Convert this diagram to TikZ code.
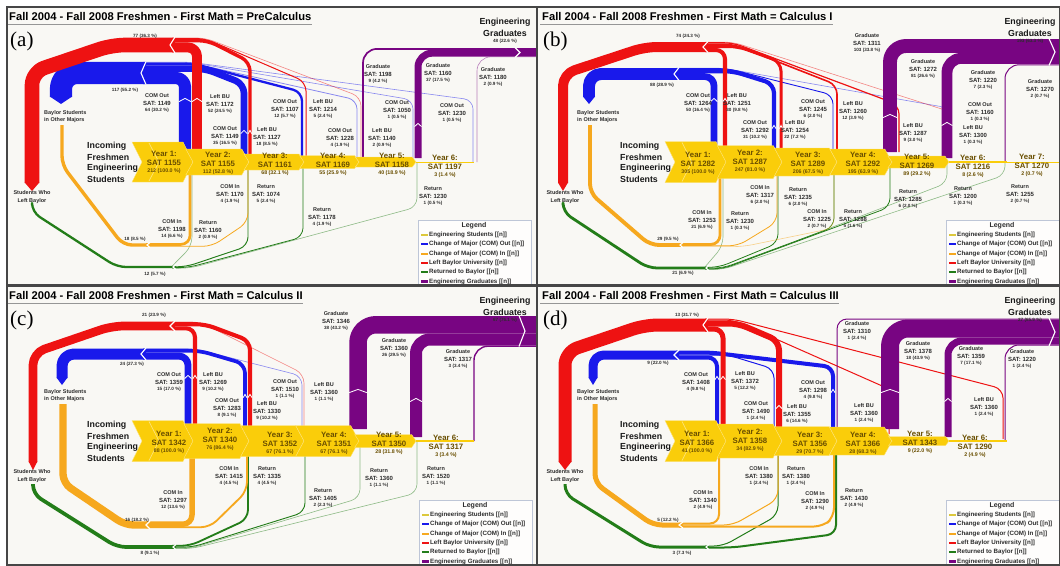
\documentclass[tikz,border=0pt]{standalone}
\usepackage{fontspec}
\setmainfont{Liberation Sans}
\newfontfamily\serifTimes{Liberation Serif}
\definecolor{cRed}{RGB}{238,18,18}
\definecolor{cBlue}{RGB}{25,25,235}
\definecolor{cOrange}{RGB}{246,168,30}
\definecolor{cGreen}{RGB}{35,125,25}
\definecolor{cPurple}{RGB}{120,5,130}
\definecolor{cYellow}{RGB}{250,205,10}
\definecolor{cYellowL}{RGB}{253,228,120}
\definecolor{cLegY}{RGB}{220,200,60}
\definecolor{cBg}{RGB}{249,248,244}
\definecolor{cFrame}{RGB}{70,70,70}
\definecolor{cRule}{RGB}{150,150,150}
\definecolor{cTxt}{RGB}{45,45,45}
\definecolor{cInc}{RGB}{25,25,25}
\definecolor{cYear}{RGB}{105,78,0}
\definecolor{cLegB}{RGB}{190,198,215}
\tikzset{
 flow/.style={line cap=butt, line join=round, rounded corners=9},
 fr/.style={flow, draw=cRed},
 fb/.style={flow, draw=cBlue},
 fo/.style={flow, draw=cOrange},
 fg/.style={flow, draw=cGreen},
 fp/.style={flow, draw=cPurple, rounded corners=14},
 pale/.style={opacity=0.5},
 notch/.style={draw=white, line width=1.1, line join=miter},
 wmk/.style={draw=white, line width=0.8},
 chevS/.style={fill=cYellow, draw=cYellowL, line width=0.4},
 la/.style={inner sep=0, text=cTxt, font=\fontsize{5.5}{6}\selectfont\bfseries},
 lb/.style={inner sep=0, text=cTxt, font=\fontsize{6}{7}\selectfont\bfseries},
 lc/.style={inner sep=0, text=cTxt, font=\fontsize{4.6}{5}\selectfont\bfseries},
 ya/.style={inner sep=0, text=cYear, font=\fontsize{7.8}{9}\selectfont\bfseries},
 yc/.style={inner sep=0, text=cYear, font=\fontsize{5.3}{6}\selectfont\bfseries},
 inc/.style={inner sep=0, anchor=west, text=cInc, font=\fontsize{8.8}{10}\selectfont\bfseries},
 eg/.style={inner sep=0, text=cInc, font=\fontsize{8.8}{10}\selectfont\bfseries},
 ttl/.style={inner sep=0, anchor=west, text=black, font=\fontsize{11.2}{12}\selectfont\bfseries},
 plab/.style={inner sep=0, anchor=west, font=\serifTimes\fontsize{21}{22}\selectfont},
 lgT/.style={inner sep=0, text=cTxt, font=\fontsize{7}{8}\selectfont\bfseries},
 lgI/.style={inner sep=0, anchor=west, text=cTxt, font=\fontsize{6.2}{7}\selectfont\bfseries},
}
\newcommand\lab[5]{%
 \node[la] at (#1,#2) {#3};
 \node[lb] at (#1,#2+7) {#4};
 \node[lc] at (#1,#2+14) {#5};}
\newcommand\ylab[5]{%
 \node[ya] at (#1,#2) {#3};
 \node[ya] at (#1,#2+9) {#4};
 \node[yc] at (#1,#2+17) {#5};}
\newcommand\chevA[3]{%
 \pgfmathsetmacro\chd{min(10,0.22*#3+1.5)}%
 \filldraw[chevS] (#1,162-#3/2) -- (#2-\chd,162-#3/2) -- (#2,162) -- (#2-\chd,162+#3/2) -- (#1,162+#3/2) -- (#1+\chd,162) -- cycle;
 \draw[cYellowL, line width=0.7] (149,162-#3/2+1) -- (159,162) -- (149,162+#3/2-1);}
\newcommand\chevB[3]{%
 \pgfmathsetmacro\chd{min(10,0.22*#3+1.5)}%
 \filldraw[chevS] (#1-\chd,162-#3/2) -- (#2-\chd,162-#3/2) -- (#2,162) -- (#2-\chd,162+#3/2) -- (#1-\chd,162+#3/2) -- (#1,162) -- cycle;}
\newcommand\ythin[3]{\draw[cYellow, line width=#3] (#1,162) -- (#2,162);}
\newcommand\wmark[3]{\draw[wmk] (#1-#3/2,#2+1.6) -- (#1,#2-1.6) -- (#1+#3/2,#2+1.6);}
\newcommand\common[3]{%
 \node[ttl] (t#2) at (9,16) {Fall 2004 - Fall 2008 Freshmen - First Math = #1};
 \coordinate (u#2) at (7,24.5);
 \draw[cRule, line width=0.8] (u#2) -- (t#2.east |- u#2);
 \node[plab] (p#2) at (10,41) {(#2)};
 \node[inc] (ia#2) at (87,146) {Incoming};
 \node[inc] (ib#2) at (87,157) {Freshmen};
 \node[inc] (ic#2) at (87,168) {Engineering};
 \node[inc] (id#2) at (87,179) {Students};
 \node[la] (sa#2) at (32,193) {Students Who};
 \node[la] (sb#2) at (32,201) {Left Baylor};
 \node[la, anchor=west] (ba#2) at (44,113) {Baylor Students};
 \node[la, anchor=west] (bb#2) at (44,120) {in Other Majors};
 \node[eg] (ea#2) at (#3,22) {Engineering};
 \node[eg] (eb#2) at (#3,33) {Graduates};}
\newcommand\legendbox[2]{%
 \filldraw[fill=white!75!cBg, draw=cLegB, line width=0.8] (#1,#2) rectangle (#1+113,#2+72);
 \node[lgT] at (#1+56,#2+6) {Legend};
 \draw[cLegY, line width=2.2] (#1+3,#2+15) -- (#1+10,#2+15);
 \node[lgI] at (#1+11,#2+15) {Engineering Students [[n]]};
 \draw[cBlue, line width=2.2] (#1+3,#2+24.3) -- (#1+10,#2+24.3);
 \node[lgI] at (#1+11,#2+24.3) {Change of Major (COM) Out [[n]]};
 \draw[cOrange, line width=2.2] (#1+3,#2+33.6) -- (#1+10,#2+33.6);
 \node[lgI] at (#1+11,#2+33.6) {Change of Major (COM) In [[n]]};
 \draw[cRed, line width=2.2] (#1+3,#2+42.9) -- (#1+10,#2+42.9);
 \node[lgI] at (#1+11,#2+42.9) {Left Baylor University [[n]]};
 \draw[cGreen, line width=2.2] (#1+3,#2+52.2) -- (#1+10,#2+52.2);
 \node[lgI] at (#1+11,#2+52.2) {Returned to Baylor [[n]]};
 \draw[cPurple, line width=2.2] (#1+3,#2+61.5) -- (#1+10,#2+61.5);
 \node[lgI] at (#1+11,#2+61.5) {Engineering Graduates [[n]]};}
\begin{document}
\begin{tikzpicture}[x=1pt,y=-1pt]
\useasboundingbox (0,0) rectangle (1060,565);
\fill[white] (0,0) rectangle (1060,565);
%%%%%%%%%%%%%%%%%%%% PANEL A
\begin{scope}
\fill[cBg] (7,7) rectangle (537,285);
\begin{scope}
\clip (7,7) rectangle (537,285);
% green
\draw[fg, line width=2.3] (32,205) -- (32,212) -- (117,267) -- (176,267);
\draw[fg, pale, line width=0.6] (172,266.2) -- (192,246) -- (192,168);
\draw[fg, line width=0.95] (172,266.8) -- (186,266.8) -- (248,246) -- (248,168);
\draw[fg, line width=0.8] (172,267.6) -- (188,267.6) -- (303,237) -- (303,166);
\draw[fg, pale, line width=0.6] (172,268.2) -- (190,268.2) -- (417,207) -- (417,162);
\draw[notch] (176,264.5) -- (173,267) -- (176,269.5);
% orange
\draw[fo, line width=3.4] (62,125) -- (62,165) -- (123,245) -- (150,245);
\draw[fo, line width=2.7] (146,244.4) -- (190,244.4) -- (190,168);
\draw[fo, line width=0.8] (146,246.3) -- (212,246.3) -- (248,222) -- (248,168);
\draw[notch] (150,242.5) -- (147,245) -- (150,247.5);
% blue
\draw[fb, line width=22.2, rounded corners=16] (61,97) -- (61,73) -- (146,73);
\fill[cBlue] (49.9,96.5) -- (72.1,96.5) -- (61,104) -- cycle;
\draw[fb, line width=12.2] (143,78) -- (185,78) -- (185,152);
\draw[fb, line width=6.65] (143,68.6) -- (205,68.6) -- (244,84) -- (244,158);
\draw[fb, line width=2.3] (143,64.1) -- (195,64.1) -- (302,92) -- (302,160);
\draw[fb, pale, line width=0.8] (143,62.7) -- (190,62.7) -- (357,100) -- (357,160);
\draw[fb, pale, line width=0.6] (143,62.3) -- (190,62.3) -- (413,100) -- (413,162);
\draw[fb, pale, line width=0.6] (143,62.1) -- (190,62.1) -- (473,100) -- (473,162);
\draw[notch] (146,61.5) -- (141,73) -- (146,84.5);
% red
\draw[fr, line width=14.6, rounded corners=13] (32,183) -- (32,72) -- (112,45) -- (175,45);
\fill[cRed] (24.7,182.5) -- (39.3,182.5) -- (32,191) -- cycle;
\draw[fr, line width=9.9] (172,47.4) -- (197,47.4) -- (197,152);
\draw[fr, line width=3.4] (172,40.7) -- (208,40.7) -- (250,62) -- (250,158);
\draw[fr, line width=1] (172,38.5) -- (205,38.5) -- (306,82) -- (306,160);
\draw[fr, pale, line width=0.6] (172,37.9) -- (205,37.9) -- (361,97) -- (361,160);
\draw[notch] (175,37) -- (170,45) -- (175,53);
% purple
\draw[fp, line width=1.7] (363,158) -- (363,48.9) -- (540,48.9);
\draw[fp, line width=7] (418,158) -- (418,53.2) -- (540,53.2);
\draw[fp, pale, line width=0.6] (477,162) -- (477,56.8) -- (540,56.8);
\draw[notch] (515,47.5) -- (520,52.5) -- (515,57.5);
% chevrons
\chevA{132}{193}{40}
\chevB{193}{249}{26}
\chevB{249}{304}{16}
\chevB{304}{359}{13}
\chevB{359}{416}{10}
\ythin{416}{474}{1}
\wmark{185}{100}{12}\wmark{197}{100}{10}\wmark{244}{132}{6.6}\wmark{250}{132}{3.4}\wmark{418}{125}{7}
% labels
\node[lc] at (145,36) {77 (36.3 \%)};
\node[lc] at (125,90) {117 (55.2 \%)};
\lab{157}{96}{COM Out}{SAT: 1149}{64 (30.2 \%)}
\lab{220}{97}{Left BU}{SAT: 1172}{52 (24.5 \%)}
\lab{225}{129}{COM Out}{SAT: 1149}{35 (16.5 \%)}
\lab{267}{130}{Left BU}{SAT: 1127}{18 (8.5 \%)}
\lab{285}{102}{COM Out}{SAT: 1107}{12 (5.7 \%)}
\lab{323}{102}{Left BU}{SAT: 1214}{5 (2.4 \%)}
\lab{340}{131}{COM Out}{SAT: 1228}{4 (1.9 \%)}
\lab{382}{131}{Left BU}{SAT: 1140}{2 (0.9 \%)}
\lab{397}{103}{COM Out}{SAT: 1050}{1 (0.5 \%)}
\lab{452}{106}{COM Out}{SAT: 1230}{1 (0.5 \%)}
\lab{378}{67}{Graduate}{SAT: 1198}{9 (4.2 \%)}
\lab{438}{66}{Graduate}{SAT: 1160}{37 (17.5 \%)}
\lab{493}{70}{Graduate}{SAT: 1180}{2 (0.9 \%)}
\lab{172}{222}{COM In}{SAT: 1198}{14 (6.6 \%)}
\lab{208}{223}{Return}{SAT: 1160}{2 (0.9 \%)}
\lab{230}{187}{COM In}{SAT: 1170}{4 (1.9 \%)}
\lab{266}{187}{Return}{SAT: 1074}{5 (2.4 \%)}
\lab{322}{210}{Return}{SAT: 1178}{4 (1.9 \%)}
\lab{433}{189}{Return}{SAT: 1230}{1 (0.5 \%)}
\node[lc] at (135,239) {18 (8.5 \%)};
\node[lc] at (155,274) {12 (5.7 \%)};
\ylab{164}{154}{Year 1:}{SAT 1155}{212 (100.0 \%)}
\ylab{218}{155}{Year 2:}{SAT 1155}{112 (52.8 \%)}
\ylab{275}{156}{Year 3:}{SAT 1161}{68 (32.1 \%)}
\ylab{333}{156}{Year 4:}{SAT 1169}{55 (25.9 \%)}
\ylab{392}{156}{Year 5:}{SAT 1158}{40 (18.9 \%)}
\ylab{445}{158}{Year 6:}{SAT 1197}{3 (1.4 \%)}
\node[lc] at (505,41) {48 (22.6 \%)};
\common{PreCalculus}{a}{505}
\legendbox{418}{220}
\end{scope}
\draw[cFrame, line width=1.2] (7,7) rectangle (537,285);
\end{scope}
%%%%%%%%%%%%%%%%%%%% PANEL B
\begin{scope}[shift={(533,0)}]
\fill[cBg] (4,7) rectangle (527,285);
\begin{scope}
\clip (4,7) rectangle (527,285);
% green
\draw[fg, line width=2.8] (30,205) -- (30,212) -- (115,268) -- (176,268);
\draw[fg, pale, line width=0.6] (172,266.9) -- (190,246) -- (190,168);
\draw[fg, line width=0.8] (172,267.3) -- (186,267.3) -- (245,243) -- (245,168);
\draw[fg, line width=0.7] (172,268) -- (190,268) -- (301,227) -- (301,168);
\draw[fg, line width=0.8] (172,268.7) -- (190,268.7) -- (357,207) -- (357,166);
\draw[fg, pale, line width=0.6] (172,269.2) -- (190,269.2) -- (414,183) -- (414,162);
\draw[fg, pale, line width=0.6] (172,269.4) -- (190,269.4) -- (472,175) -- (472,162);
\draw[notch] (176,265.5) -- (173,268) -- (176,270.5);
% orange
\draw[fo, line width=3.9] (57,125) -- (57,193) -- (117,245) -- (150,245);
\draw[fo, line width=2.8] (146,244.4) -- (187,244.4) -- (187,168);
\draw[fo, line width=0.8] (146,245.8) -- (205,245.8) -- (244,222) -- (244,168);
\draw[fo, pale, line width=0.6] (146,246.6) -- (210,246.6) -- (301,228) -- (301,168);
\draw[notch] (150,242.5) -- (147,245) -- (150,247.5);
% blue
\draw[fb, line width=11.9, rounded corners=12] (56,97) -- (56,74) -- (146,74);
\fill[cBlue] (50,96.5) -- (62,96.5) -- (56,104) -- cycle;
\draw[fb, line width=6.75] (143,76.6) -- (181,76.6) -- (181,150);
\draw[fb, line width=4.2] (143,71.2) -- (200,71.2) -- (241,84) -- (241,150);
\draw[fb, line width=0.9] (143,68.6) -- (195,68.6) -- (300,95) -- (300,152);
\draw[fb, pale, line width=0.6] (143,68.1) -- (190,68.1) -- (416,108) -- (416,158);
\draw[notch] (146,67.5) -- (141,74) -- (146,80.5);
% red
\draw[fr, line width=10, rounded corners=12] (30,183) -- (30,74) -- (112,47) -- (175,47);
\fill[cRed] (25,182.5) -- (35,182.5) -- (30,191) -- cycle;
\draw[fr, line width=4.05] (172,50) -- (192,50) -- (192,146);
\draw[fr, line width=3] (172,46.5) -- (205,46.5) -- (248,62) -- (248,150);
\draw[fr, line width=1.6] (172,44.2) -- (200,44.2) -- (304,85) -- (304,152);
\draw[fr, line width=1.2] (172,42.8) -- (200,42.8) -- (366,105) -- (366,152);
\draw[fr, pale, line width=0.6] (172,42.1) -- (200,42.1) -- (418,112) -- (418,158);
\draw[notch] (175,41.5) -- (170,47) -- (175,52.5);
% purple
\draw[fp, line width=13.9, rounded corners=16] (357,152) -- (357,46) -- (540,46);
\draw[fp, line width=10.9] (414,158) -- (414,58.4) -- (540,58.4);
\draw[fp, line width=1] (472,162) -- (472,64.8) -- (540,64.8);
\draw[notch] (516,38.5) -- (522,52) -- (516,65.5);
% chevrons
\chevA{132}{193}{41}
\chevB{193}{249}{33}
\chevB{249}{304}{28}
\chevB{304}{359}{26}
\chevB{359}{416}{12}
\ythin{416}{474}{1.1}
\ythin{474}{531}{0.7}
\wmark{181}{100}{6.8}\wmark{192}{100}{4}\wmark{241}{127}{4.2}\wmark{248}{127}{3}\wmark{357}{116}{14}\wmark{414}{124}{11}
% labels
\node[lc] at (155,36) {74 (24.3 \%)};
\node[lc] at (129,85) {88 (28.9 \%)};
\lab{165}{96}{COM Out}{SAT: 1264}{50 (16.4 \%)}
\lab{204}{96}{Left BU}{SAT: 1251}{30 (9.8 \%)}
\lab{222}{123}{COM Out}{SAT: 1292}{31 (10.2 \%)}
\lab{262}{123}{Left BU}{SAT: 1254}{22 (7.2 \%)}
\lab{280}{102}{COM Out}{SAT: 1245}{6 (2.0 \%)}
\lab{320}{104}{Left BU}{SAT: 1260}{12 (3.9 \%)}
\lab{380}{126}{Left BU}{SAT: 1287}{9 (3.0 \%)}
\lab{447}{105}{COM Out}{SAT: 1160}{1 (0.3 \%)}
\lab{440}{128}{Left BU}{SAT: 1300}{1 (0.3 \%)}
\lab{334}{36}{Graduate}{SAT: 1311}{103 (33.8 \%)}
\lab{390}{62}{Graduate}{SAT: 1272}{81 (26.6 \%)}
\lab{450}{73}{Graduate}{SAT: 1220}{7 (2.3 \%)}
\lab{507}{82}{Graduate}{SAT: 1270}{2 (0.7 \%)}
\ylab{165}{155}{Year 1:}{SAT 1282}{305 (100.0 \%)}
\ylab{217}{153}{Year 2:}{SAT 1287}{247 (81.0 \%)}
\ylab{275}{155}{Year 3:}{SAT 1289}{206 (67.5 \%)}
\ylab{330}{155}{Year 4:}{SAT 1292}{195 (63.9 \%)}
\ylab{384}{157}{Year 5:}{SAT 1269}{89 (29.2 \%)}
\ylab{440}{158}{Year 6:}{SAT 1216}{8 (2.6 \%)}
\ylab{499}{157}{Year 7:}{SAT 1270}{2 (0.7 \%)}
\lab{169}{213}{COM In}{SAT: 1253}{21 (6.9 \%)}
\lab{207}{214}{Return}{SAT: 1230}{1 (0.3 \%)}
\lab{227}{188}{COM In}{SAT: 1317}{6 (2.0 \%)}
\lab{265}{190}{Return}{SAT: 1235}{6 (2.0 \%)}
\lab{284}{212}{COM In}{SAT: 1225}{2 (0.7 \%)}
\lab{320}{212}{Return}{SAT: 1288}{5 (1.6 \%)}
\lab{375}{192}{Return}{SAT: 1285}{6 (2.0 \%)}
\lab{430}{189}{Return}{SAT: 1200}{1 (0.3 \%)}
\lab{487}{187}{Return}{SAT: 1255}{2 (0.7 \%)}
\node[lc] at (135,239) {29 (9.5 \%)};
\node[lc] at (150,273) {21 (6.9 \%)};
\node[lc] at (497,41) {193 (63.3 \%)};
\common{Calculus I}{b}{497}
\legendbox{413}{220}
\end{scope}
\draw[cFrame, line width=1.2] (4,7) rectangle (527,285);
\end{scope}
%%%%%%%%%%%%%%%%%%%% PANEL C
\begin{scope}[shift={(0,279)}]
\fill[cBg] (7,7) rectangle (537,286);
\begin{scope}
\clip (7,7) rectangle (537,286);
% green
\draw[fg, line width=3.7] (33,205) -- (33,215) -- (117,268) -- (176,268);
\draw[fg, line width=1.84] (172,266.8) -- (190,266.8) -- (248,240) -- (248,170);
\draw[fg, line width=0.92] (172,268.2) -- (192,268.2) -- (305,233) -- (305,170);
\draw[fg, pale, line width=0.6] (172,269) -- (192,269) -- (360,219) -- (360,168);
\draw[fg, pale, line width=0.6] (172,269.6) -- (192,269.6) -- (417,214) -- (417,162);
\draw[notch] (176,265.5) -- (173,268) -- (176,270.5);
% orange
\draw[fo, line width=7.4] (63,125) -- (63,204) -- (125,246) -- (150,246);
\draw[fo, line width=5.5] (146,245.2) -- (192,245.2) -- (192,170);
\draw[fo, line width=1.84] (146,248.2) -- (210,248.2) -- (247,212) -- (247,170);
\draw[notch] (150,242) -- (146,246) -- (150,250);
% blue
\draw[fb, line width=11, rounded corners=12] (62,99) -- (62,75) -- (146,75);
\fill[cBlue] (56.5,98.5) -- (67.5,98.5) -- (62,106) -- cycle;
\draw[fb, line width=6.9] (143,77.1) -- (188,77.1) -- (188,148);
\draw[fb, line width=3.7] (143,71.8) -- (200,71.8) -- (245,85) -- (245,150);
\draw[fb, pale, line width=0.6] (143,69.7) -- (195,69.7) -- (302,97) -- (302,155);
\draw[notch] (146,69) -- (141,75) -- (146,81);
% red
\draw[fr, line width=8.7, rounded corners=12] (33,183) -- (33,74) -- (112,47) -- (175,47);
\fill[cRed] (28.6,182.5) -- (37.4,182.5) -- (33,191) -- cycle;
\draw[fr, line width=4.1] (172,49.3) -- (195,49.3) -- (195,148);
\draw[fr, line width=4.1] (172,45.2) -- (205,45.2) -- (250,62) -- (250,150);
\draw[fr, pale, line width=0.6] (172,42.9) -- (200,42.9) -- (304,95) -- (304,155);
\draw[notch] (175,42) -- (170,47) -- (175,52);
% purple
\draw[fp, line width=17.5, rounded corners=18] (358,150) -- (358,45.75) -- (540,45.75);
\draw[fp, line width=12] (416,158) -- (416,60.5) -- (540,60.5);
\draw[fp, line width=1.4] (474,162) -- (474,67.2) -- (540,67.2);
\draw[notch] (519,36.5) -- (525,52) -- (519,67.5);
% chevrons
\chevA{132}{193}{41}
\chevB{193}{249}{35}
\chevB{249}{304}{31}
\chevB{304}{359}{31}
\chevB{359}{416}{13}
\ythin{416}{474}{1.4}
\wmark{188}{98}{6.9}\wmark{195}{98}{4.1}\wmark{245}{117}{3.7}\wmark{250}{117}{4.1}\wmark{358}{112}{17.5}\wmark{416}{121}{12}
% labels
\node[lc] at (154,36) {21 (23.9 \%)};
\node[lc] at (132,85) {24 (27.3 \%)};
\lab{169}{96}{COM Out}{SAT: 1359}{15 (17.0 \%)}
\lab{213}{96}{Left BU}{SAT: 1269}{9 (10.2 \%)}
\lab{227}{122}{COM Out}{SAT: 1283}{8 (9.1 \%)}
\lab{267}{125}{Left BU}{SAT: 1330}{9 (10.2 \%)}
\lab{285}{103}{COM Out}{SAT: 1510}{1 (1.1 \%)}
\lab{324}{106}{Left BU}{SAT: 1360}{1 (1.1 \%)}
\lab{336}{35}{Graduate}{SAT: 1346}{38 (43.2 \%)}
\lab{394}{62}{Graduate}{SAT: 1360}{26 (29.5 \%)}
\lab{458}{73}{Graduate}{SAT: 1317}{3 (3.4 \%)}
\ylab{169}{155}{Year 1:}{SAT 1342}{88 (100.0 \%)}
\ylab{220}{152}{Year 2:}{SAT 1340}{76 (86.4 \%)}
\ylab{280}{156}{Year 3:}{SAT 1352}{67 (76.1 \%)}
\ylab{334}{156}{Year 4:}{SAT 1351}{67 (76.1 \%)}
\ylab{389}{156}{Year 5:}{SAT 1350}{28 (31.8 \%)}
\ylab{446}{159}{Year 6:}{SAT 1317}{3 (3.4 \%)}
\lab{229}{190}{COM In}{SAT: 1415}{4 (4.5 \%)}
\lab{267}{190}{Return}{SAT: 1335}{4 (4.5 \%)}
\lab{173}{214}{COM In}{SAT: 1297}{12 (13.6 \%)}
\lab{323}{212}{Return}{SAT: 1405}{2 (2.3 \%)}
\lab{379}{192}{Return}{SAT: 1360}{1 (1.1 \%)}
\lab{436}{190}{Return}{SAT: 1520}{1 (1.1 \%)}
\node[lc] at (137,241) {16 (18.2 \%)};
\node[lc] at (150,274) {8 (9.1 \%)};
\node[lc] at (505,41) {67 (76.1 \%)};
\common{Calculus II}{c}{505}
\legendbox{419}{221}
\end{scope}
\draw[cFrame, line width=1.2] (7,7) rectangle (537,286);
\end{scope}
%%%%%%%%%%%%%%%%%%%% PANEL D
\begin{scope}[shift={(533,279)}]
\fill[cBg] (4,7) rectangle (527,286);
\begin{scope}
\clip (4,7) rectangle (527,286);
% green
\draw[fg, line width=3] (32,205) -- (32,215) -- (117,268) -- (176,268);
\draw[fg, line width=1] (172,267) -- (190,267) -- (245,236) -- (245,170);
\draw[fg, line width=2] (172,268.5) -- (200,268.5) -- (303,255) -- (303,170);
\draw[notch] (176,265.5) -- (173,268) -- (176,270.5);
% orange
\draw[fo, line width=5] (62,125) -- (62,204) -- (120,246) -- (150,246);
\draw[fo, line width=2] (146,244.5) -- (186,244.5) -- (186,172);
\draw[fo, line width=1] (146,246) -- (200,246) -- (245,220) -- (245,172);
\draw[fo, line width=2] (146,247.5) -- (290,247.5) -- (301,238) -- (301,172);
\draw[notch] (150,243) -- (146,246) -- (150,249);
% blue
\draw[fb, line width=9, rounded corners=11] (60,99) -- (60,76) -- (146,76);
\fill[cBlue] (55.5,98.5) -- (64.5,98.5) -- (60,106) -- cycle;
\draw[fb, line width=4] (143,78.5) -- (184,78.5) -- (184,150);
\draw[fb, line width=1] (143,76) -- (195,76) -- (241,90) -- (241,150);
\draw[fb, line width=4] (143,73.5) -- (178,73.5) -- (300,88) -- (300,150);
\draw[notch] (146,71) -- (141,76) -- (146,81);
% red
\draw[fr, line width=13, rounded corners=13] (32,183) -- (32,73) -- (112,46) -- (175,46);
\fill[cRed] (25.5,182.5) -- (38.5,182.5) -- (32,191) -- cycle;
\draw[fr, line width=5] (172,50) -- (190,50) -- (190,148);
\draw[fr, line width=6] (172,44.5) -- (205,44.5) -- (246,62) -- (246,150);
\draw[fr, line width=1] (172,41) -- (200,41) -- (356,110) -- (356,155);
\draw[fr, line width=1] (172,40) -- (200,40) -- (470,110) -- (470,160);
\draw[notch] (175,39) -- (170,46) -- (175,53);
% purple
\draw[fp, line width=1, rounded corners=10] (304,160) -- (304,40) -- (540,40);
\draw[fp, line width=18, rounded corners=18] (357,150) -- (357,49.5) -- (540,49.5);
\draw[fp, line width=7] (415,158) -- (415,62) -- (540,62);
\draw[fp, line width=1] (472,162) -- (472,66) -- (540,66);
\draw[notch] (516,39) -- (522,53) -- (516,67);
% chevrons
\chevA{132}{193}{41}
\chevB{193}{249}{34}
\chevB{249}{304}{29}
\chevB{304}{359}{28}
\chevB{359}{416}{9}
\ythin{416}{474}{2}
\wmark{184}{99}{4}\wmark{190}{99}{5}\wmark{246}{128}{6}\wmark{300}{112}{4}\wmark{357}{112}{18}\wmark{415}{121}{7}
% labels
\node[lc] at (154,36) {13 (31.7 \%)};
\node[lc] at (125,84) {9 (22.0 \%)};
\lab{163}{96}{COM Out}{SAT: 1408}{4 (9.8 \%)}
\lab{212}{95}{Left BU}{SAT: 1372}{5 (12.2 \%)}
\lab{223}{125}{COM Out}{SAT: 1490}{1 (2.4 \%)}
\lab{264}{128}{Left BU}{SAT: 1355}{6 (14.6 \%)}
\lab{280}{104}{COM Out}{SAT: 1298}{4 (9.8 \%)}
\lab{331}{127}{Left BU}{SAT: 1360}{1 (2.4 \%)}
\lab{451}{121}{Left BU}{SAT: 1360}{1 (2.4 \%)}
\lab{324}{45}{Graduate}{SAT: 1310}{1 (2.4 \%)}
\lab{385}{65}{Graduate}{SAT: 1378}{18 (43.9 \%)}
\lab{438}{70}{Graduate}{SAT: 1359}{7 (17.1 \%)}
\lab{489}{73}{Graduate}{SAT: 1220}{1 (2.4 \%)}
\ylab{164}{155}{Year 1:}{SAT 1366}{41 (100.0 \%)}
\ylab{217}{153}{Year 2:}{SAT 1358}{34 (82.9 \%)}
\ylab{277}{156}{Year 3:}{SAT 1356}{29 (70.7 \%)}
\ylab{330}{156}{Year 4:}{SAT 1366}{28 (68.3 \%)}
\ylab{387}{155}{Year 5:}{SAT 1343}{9 (22.0 \%)}
\ylab{442}{159}{Year 6:}{SAT 1290}{2 (4.9 \%)}
\lab{226}{190}{COM In}{SAT: 1380}{1 (2.4 \%)}
\lab{263}{190}{Return}{SAT: 1380}{1 (2.4 \%)}
\lab{170}{214}{COM In}{SAT: 1340}{2 (4.9 \%)}
\lab{282}{215}{COM In}{SAT: 1290}{2 (4.9 \%)}
\lab{321}{212}{Return}{SAT: 1430}{2 (4.9 \%)}
\node[lc] at (135,241) {5 (12.2 \%)};
\node[lc] at (149,274) {3 (7.3 \%)};
\node[lc] at (497,41) {27 (65.9 \%)};
\common{Calculus III}{d}{497}
\legendbox{413}{221}
\end{scope}
\draw[cFrame, line width=1.2] (4,7) rectangle (527,286);
\end{scope}
\end{tikzpicture}
\end{document}
